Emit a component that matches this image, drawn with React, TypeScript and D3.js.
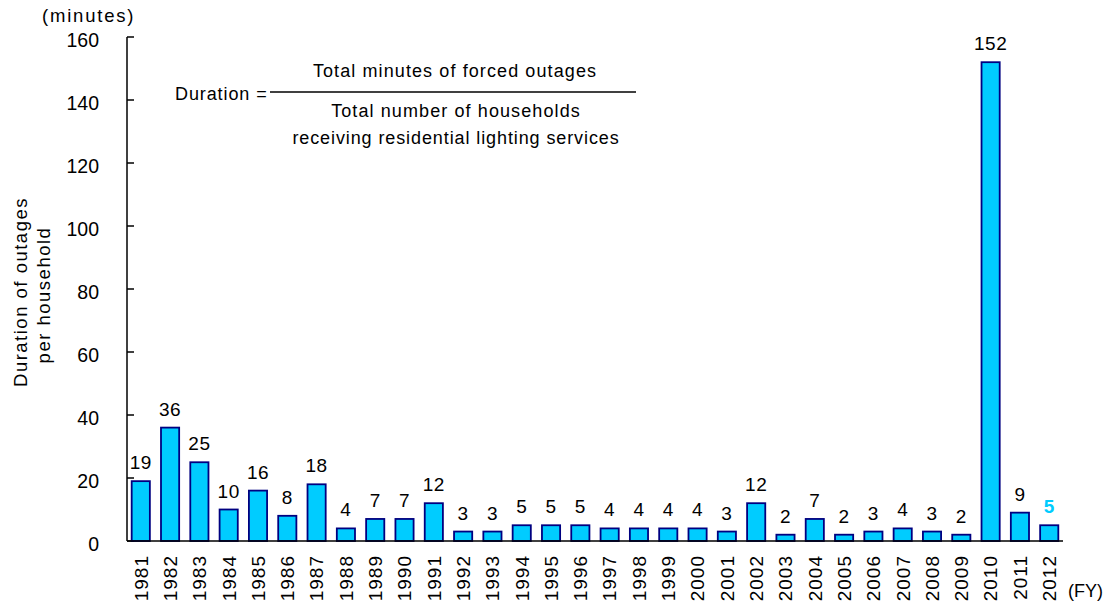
import React from "react";
import * as d3 from "d3";

// Fiscal years on the category axis
const years: string[] = [
  "1981", "1982", "1983", "1984", "1985", "1986", "1987", "1988", "1989", "1990",
  "1991", "1992", "1993", "1994", "1995", "1996", "1997", "1998", "1999", "2000",
  "2001", "2002", "2003", "2004", "2005", "2006", "2007", "2008", "2009", "2010",
  "2011", "2012",
];

// Outage duration per household (minutes)
const durations: number[] = [
  19, 36, 25, 10, 16, 8, 18, 4, 7, 7,
  12, 3, 3, 5, 5, 5, 4, 4, 4, 4,
  3, 12, 2, 7, 2, 3, 4, 3, 2, 152,
  9, 5,
];

const yTicks: number[] = [0, 20, 40, 60, 80, 100, 120, 140, 160];

const W = 1111;
const H = 605;
const FONT = "'Liberation Sans', Arial, sans-serif";

export default function App() {
  const x = d3
    .scaleBand<string>()
    .domain(years)
    .range([127, 1063])
    .paddingInner(0.38)
    .paddingOuter(0.16);
  const y = d3.scaleLinear().domain([0, 160]).range([541, 37]);

  const data = years.map((yr, i) => ({ yr, v: durations[i] }));
  const last = years[years.length - 1];

  return (
    <svg
      width={W}
      height={H}
      style={{ position: "absolute", left: 0, top: 0, background: "#fff" }}
      fontFamily={FONT}
    >
      {/* unit label */}
      <text x={42} y={22} fontSize={18.5} letterSpacing={1.8} fill="#000">
        (minutes)
      </text>

      {/* y axis */}
      <line x1={127} x2={127} y1={y(160)} y2={y(0)} stroke="#000" strokeWidth={1.5} />
      {yTicks.map((t) => (
        <g key={t}>
          <line x1={127} x2={134} y1={y(t)} y2={y(t)} stroke="#000" strokeWidth={1.5} />
          <text
            x={99}
            y={y(t) + 3}
            dy="0.36em"
            textAnchor="end"
            fontSize={19.5}
            fill="#000"
          >
            {t}
          </text>
        </g>
      ))}

      {/* y axis title */}
      <g transform="translate(27,292) rotate(-90)">
        <text textAnchor="middle" fontSize={18.5} letterSpacing={1.5} fill="#000">
          Duration of outages
        </text>
      </g>
      <g transform="translate(50,295) rotate(-90)">
        <text textAnchor="middle" fontSize={18.5} letterSpacing={1.5} fill="#000">
          per household
        </text>
      </g>

      {/* bars */}
      {data.map((d) => (
        <rect
          key={d.yr}
          x={x(d.yr)!}
          y={y(d.v)}
          width={x.bandwidth()}
          height={y(0) - y(d.v)}
          fill="#00CCFF"
          stroke="#000080"
          strokeWidth={1.8}
        />
      ))}

      {/* value labels */}
      {data.map((d) => (
        <text
          key={"v" + d.yr}
          x={x(d.yr)! + x.bandwidth() / 2}
          y={y(d.v) - 12}
          textAnchor="middle"
          fontSize={19}
          letterSpacing={0.5}
          fontWeight={d.yr === last ? "bold" : "normal"}
          fill={d.yr === last ? "#00CCFF" : "#000"}
        >
          {d.v}
        </text>
      ))}

      {/* x axis */}
      <line x1={127} x2={1063} y1={y(0)} y2={y(0)} stroke="#000" strokeWidth={1.5} />
      {years.map((yr) => (
        <g
          key={"t" + yr}
          transform={`translate(${x(yr)! + x.bandwidth() / 2},555) rotate(-90)`}
        >
          <text textAnchor="end" dy="0.36em" fontSize={19} letterSpacing={1} fill="#000">
            {yr}
          </text>
        </g>
      ))}
      <text x={1068} y={597} fontSize={18} fill="#000">
        (FY)
      </text>

      {/* formula */}
      <text x={175} y={100} fontSize={18} letterSpacing={0.9} fill="#000">
        Duration =
      </text>
      <line x1={270} x2={636} y1={92} y2={92} stroke="#000" strokeWidth={1.5} />
      <text x={455} y={77} textAnchor="middle" fontSize={18} letterSpacing={1.1} fill="#000">
        Total minutes of forced outages
      </text>
      <text x={456} y={117} textAnchor="middle" fontSize={18} letterSpacing={1.1} fill="#000">
        Total number of households
      </text>
      <text x={456} y={144} textAnchor="middle" fontSize={18} letterSpacing={0.9} fill="#000">
        receiving residential lighting services
      </text>
    </svg>
  );
}
